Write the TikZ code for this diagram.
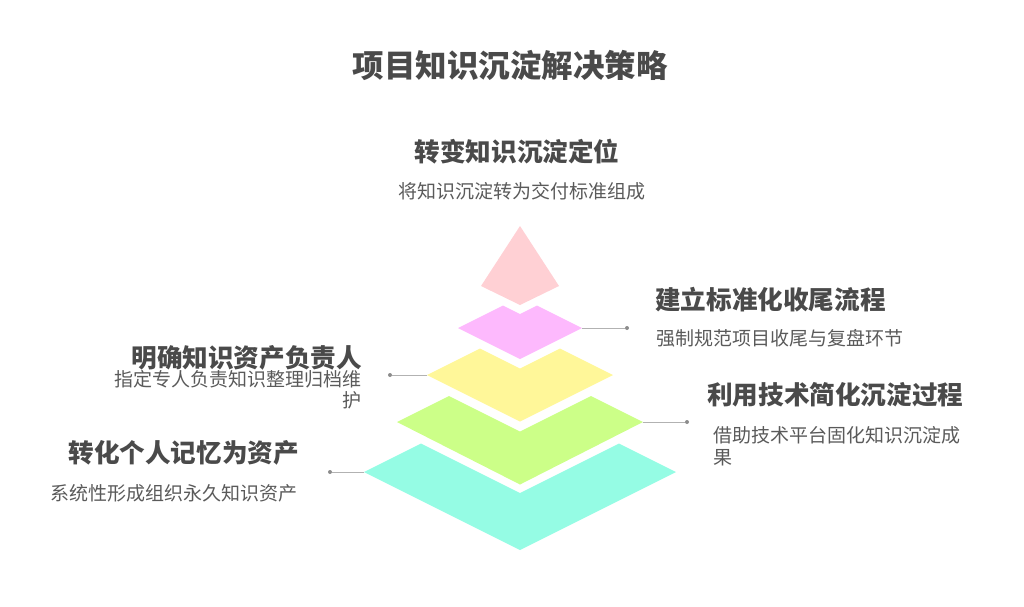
\documentclass[tikz,border=0pt]{standalone}
\usepackage{fontspec}
\setmainfont{Noto Sans CJK SC}
\usepackage{tikz}
\definecolor{capfill}{HTML}{FFD0D4}
\definecolor{tierA}{HTML}{FDB9FD}
\definecolor{tierB}{HTML}{FFF799}
\definecolor{tierC}{HTML}{CCFF88}
\definecolor{tierD}{HTML}{95FCE4}
\definecolor{headtext}{HTML}{4A4A4A}
\definecolor{subtext}{HTML}{5A5A5A}
\tikzstyle{title} = [inner sep=0pt, text=headtext, font=\fontsize{31.5}{36}\selectfont\bfseries]
\tikzstyle{head} = [inner sep=0pt, text=headtext, font=\fontsize{25.6}{30}\selectfont\bfseries]
\tikzstyle{sub} = [inner sep=0pt, text=subtext, font=\fontsize{19}{21.5}\selectfont]
\tikzstyle{dot} = [circle, fill=gray!90, inner sep=0pt, minimum size=4pt]
\tikzstyle{leader} = [draw=gray!60, line width=1pt]

\begin{document}
\begin{tikzpicture}[x=1pt, y=-1pt]
    \useasboundingbox (0,0) rectangle (1024,606);
    \node (title) [title] at (510,65) {项目知识沉淀解决策略};

    % pyramid layers
    \fill [capfill] (520,226) -- (559,286) -- (520,305) -- (481,286) -- cycle;
    \fill [tierA] (458,328) -- (503,305.5) -- (520,314) -- (537,305.5) -- (582,328) -- (520,359) -- cycle;
    \fill [tierB] (427,375) -- (480,348.5) -- (520,368.5) -- (560,348.5) -- (613,375) -- (520,421.5) -- cycle;
    \fill [tierC] (397,422) -- (449,396) -- (520,431.5) -- (591,396) -- (643,422) -- (520,484.5) -- cycle;
    \fill [tierD] (364,472) -- (421,443.5) -- (520,493) -- (619,443.5) -- (676,472) -- (520,550) -- cycle;

    \coordinate (tierAr) at (582,328);
    \coordinate (tierBl) at (427,375);
    \coordinate (tierCr) at (643,422);
    \coordinate (tierDl) at (364,472);

    \node (dotA) [dot] at (627,328) {};
    \node (dotB) [dot] at (390,375) {};
    \node (dotC) [dot] at (687,422) {};
    \node (dotD) [dot] at (330,472) {};

    % labels
    \node (capHead) [head] at (517,152) {转变知识沉淀定位};
    \node (capSub) [sub] at (522,191) {将知识沉淀转为交付标准组成};

    \node (aHead) [head, anchor=west] at (655,300) {建立标准化收尾流程};
    \node (aSub) [sub, anchor=west] at (656,338) {强制规范项目收尾与复盘环节};

    \node (bHead) [head, anchor=east] at (362,358) {明确知识资产负责人};
    \node (bSub) [sub, anchor=east, align=right] at (362,389.5) {指定专人负责知识整理归档维\\护};

    \node (cHead) [head, anchor=west] at (707,395) {利用技术简化沉淀过程};
    \node (cSub) [sub, anchor=west, align=left] at (713,446) {借助技术平台固化知识沉淀成\\果};

    \node (dHead) [head, anchor=east] at (299,453) {转化个人记忆为资产};
    \node (dSub) [sub, anchor=east] at (298,493) {系统性形成组织永久知识资产};

    \draw [leader] (tierAr) -- (dotA);
    \draw [leader] (tierBl) -- (dotB);
    \draw [leader] (tierCr) -- (dotC);
    \draw [leader] (tierDl) -- (dotD);
\end{tikzpicture}
\end{document}
